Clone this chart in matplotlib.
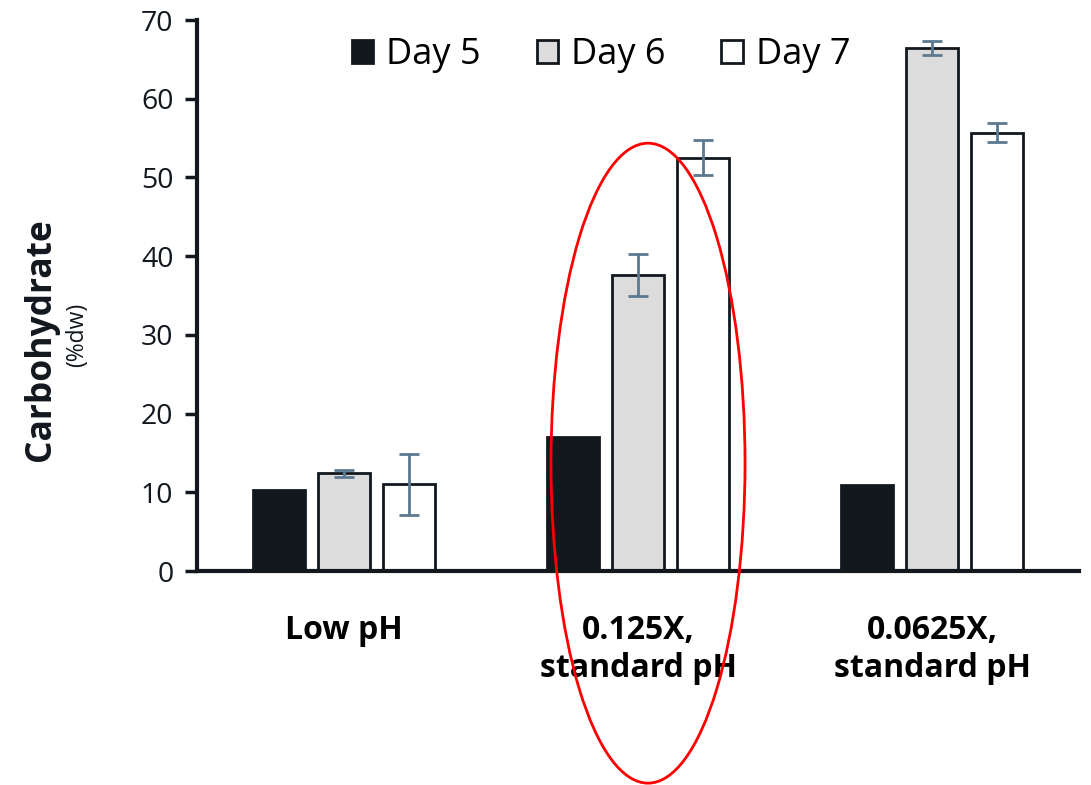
import numpy as np
import matplotlib.pyplot as plt
from matplotlib.patches import Ellipse

plt.rcParams['font.family'] = ['Open Sans', 'DejaVu Sans']

groups = ['Low pH', '0.125X,\nstandard pH', '0.0625X,\nstandard pH']
days = ['Day 5', 'Day 6', 'Day 7']
day5 = [10.3, 17.0, 10.9]
day6 = [12.4, 37.6, 66.4]
day7 = [11.0, 52.5, 55.7]
err6 = [0.45, 2.65, 0.9]
err7 = [3.9, 2.25, 1.2]

dark = '#12181e'
fills = [dark, '#dcdcdc', 'white']
err_color = '#5b7990'

fig = plt.figure(figsize=(10.91, 7.85), dpi=100)
ax = fig.add_axes([0.1806, 0.2726, 0.8084, 0.7019])

x = np.arange(len(groups))
w = 0.177
step = 0.221
series = [(day5, None), (day6, err6), (day7, err7)]
for i, (vals, err) in enumerate(series):
    pos = x + (i - 1) * step
    ax.bar(pos, vals, width=w, color=fills[i], edgecolor=dark, linewidth=2,
           label=days[i], zorder=2)
    if err is not None:
        ax.errorbar(pos, vals, yerr=err, fmt='none', ecolor=err_color,
                    elinewidth=2, capsize=7, capthick=2, zorder=3)

ax.set_xlim(-0.5, 2.5)
ax.set_ylim(0, 70)
ax.set_yticks(range(0, 71, 10))
ax.set_xticks(x)
ax.set_xticklabels(groups, fontsize=23, fontweight='bold', linespacing=1.2)
ax.tick_params(axis='x', length=0, pad=31)
ax.tick_params(axis='y', length=9, width=2.5, color=dark, labelsize=20.5,
               labelcolor=dark, pad=8)
for side in ['top', 'right']:
    ax.spines[side].set_visible(False)
for side in ['left', 'bottom']:
    ax.spines[side].set_linewidth(3)
    ax.spines[side].set_color(dark)

fig.text(0.038, 0.567, 'Carbohydrate', rotation=90, ha='center', va='center',
         fontsize=25.5, fontweight='bold', color=dark)
fig.text(0.071, 0.573, '(%dw)', rotation=90, ha='center', va='center',
         fontsize=16.5, color=dark)

ax.legend(loc='center', bbox_to_anchor=(0.458, 0.936), ncol=3, frameon=False,
          fontsize=26, handlelength=0.6, handleheight=0.6, handletextpad=0.35,
          columnspacing=1.55)

# highlight the middle group
ax.add_patch(Ellipse((1.034, 13.7), 0.66, 81.3, fill=False, edgecolor='red',
                     linewidth=2, clip_on=False, zorder=4))

fig.savefig('out.png', dpi=100)
